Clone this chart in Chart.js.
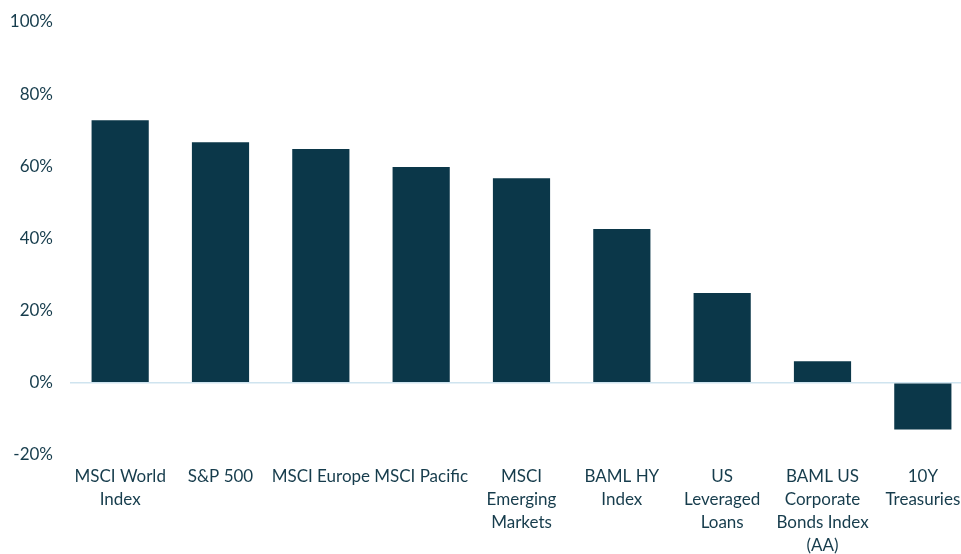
<!DOCTYPE html>
<html>
<head>
<meta charset="utf-8">
<script src="https://cdn.jsdelivr.net/npm/chart.js@4/dist/chart.umd.min.js"></script>
<style>
  html, body { margin: 0; padding: 0; background: #fff; overflow: hidden; }
  #wrap { width: 973px; height: 554px; }
</style>
</head>
<body>
<div id="wrap"><canvas id="chart" width="973" height="554"></canvas></div>
<script>
// Chart data
const categories = [
  ['MSCI World', 'Index'],
  ['S&P 500'],
  ['MSCI Europe'],
  ['MSCI Pacific'],
  ['MSCI', 'Emerging', 'Markets'],
  ['BAML HY', 'Index'],
  ['US', 'Leveraged', 'Loans'],
  ['BAML US', 'Corporate', 'Bonds Index', '(AA)'],
  ['10Y', 'Treasuries']
];
const returns = [72.8, 66.7, 64.8, 59.8, 56.7, 42.6, 24.9, 6.0, -12.9];
const yMin = -20;
const yMax = 100;
const yStep = 20;

const BAR_COLOR = '#0b3749';
const TEXT_COLOR = '#163c4c';
const ZERO_LINE = '#cfe4ef';

const ctx = document.getElementById('chart').getContext('2d');
new Chart(ctx, {
  type: 'bar',
  data: {
    labels: categories,
    datasets: [{
      data: returns,
      backgroundColor: BAR_COLOR,
      borderWidth: 0,
      categoryPercentage: 1,
      barPercentage: 0.57
    }]
  },
  options: {
    responsive: false,
    animation: false,
    layout: { padding: { top: 22, right: 0, left: 0, bottom: 0 } },
    plugins: {
      legend: { display: false },
      tooltip: { enabled: false }
    },
    scales: {
      x: {
        grid: { display: false, drawTicks: false },
        border: { display: false },
        ticks: {
          color: TEXT_COLOR,
          padding: 10,
          maxRotation: 0,
          autoSkip: false,
          font: { family: 'Lato', size: 17, lineHeight: 1.35 }
        },
        afterFit: scale => { scale.height = 99; }
      },
      y: {
        min: yMin,
        max: yMax,
        border: { display: false },
        grid: {
          drawTicks: true,
          tickLength: 17,
          tickColor: 'rgba(0,0,0,0)',
          lineWidth: 1.5,
          color: c => (c.tick && c.tick.value === 0) ? ZERO_LINE : 'rgba(0,0,0,0)'
        },
        ticks: {
          stepSize: yStep,
          color: TEXT_COLOR,
          padding: 0,
          font: { family: 'Lato', size: 17 },
          callback: v => v + '%'
        },
        afterFit: scale => { scale.width = 70; }
      }
    }
  }
});
</script>
</body>
</html>
